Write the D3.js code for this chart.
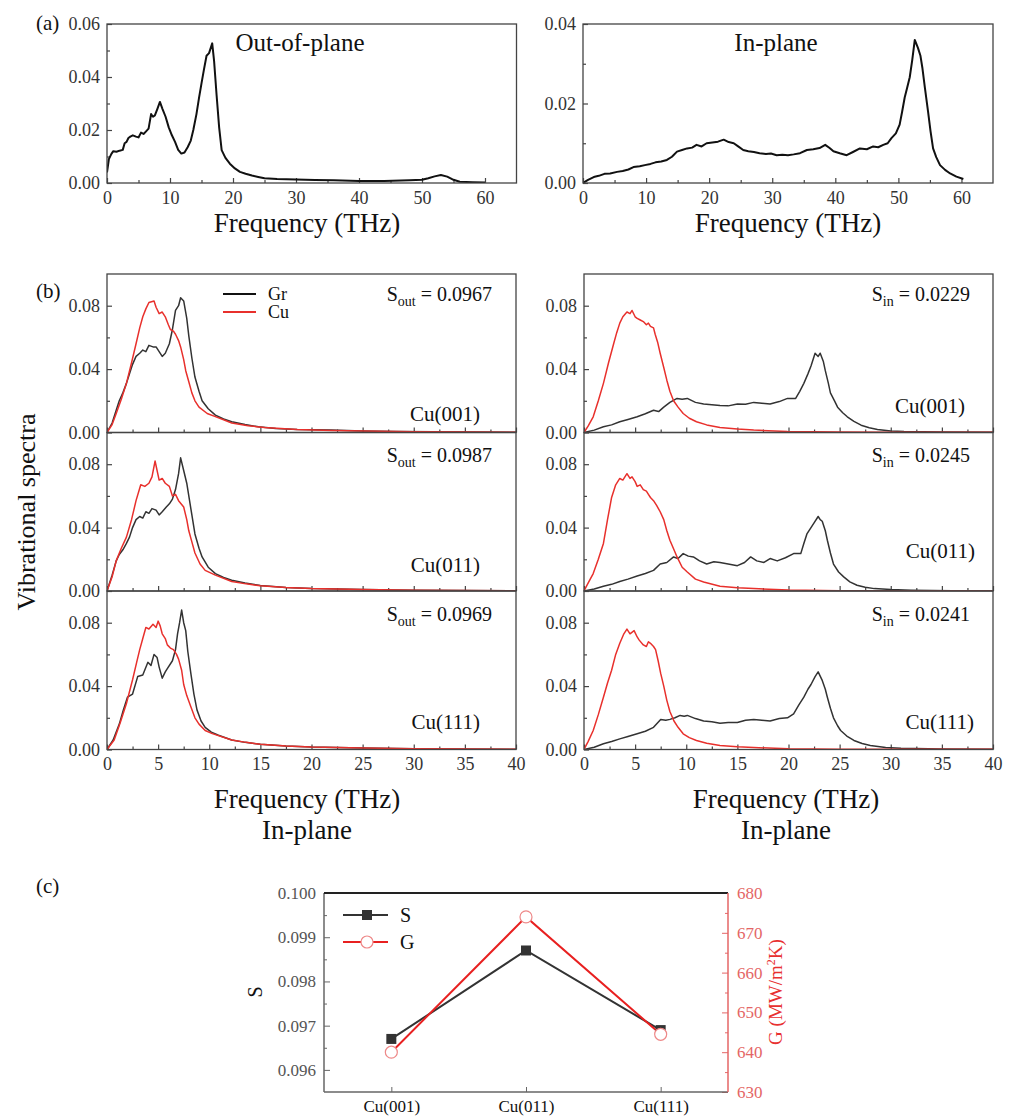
<!DOCTYPE html>
<html>
<head>
<meta charset="utf-8">
<title>Vibrational spectra of Gr on Cu</title>
<script src="https://d3js.org/d3.v7.min.js"></script>
<style>
  body { margin: 0; background: #fff; }
  svg text { font-family: "Liberation Serif", Tinos, "Times New Roman", Times, "DejaVu Serif", serif !important; }
</style>
</head>
<body>
<div id="chart"></div>
<script>
// ---- panel (a): free-standing graphene, [frequency THz, spectrum]
const aOut = [[0,0.004],[0.3,0.009],[0.7,0.011],[1,0.012],[1.5,0.0118],[2,0.0122],[2.5,0.0125],[2.8,0.015],[3.1,0.0155],[3.4,0.017],[3.7,0.0175],[4.1,0.018],[4.6,0.0175],[5,0.0172],[5.4,0.019],[5.8,0.0185],[6.2,0.0195],[6.6,0.0205],[7,0.026],[7.3,0.025],[7.6,0.0255],[8,0.028],[8.4,0.0306],[8.8,0.028],[9.3,0.025],[9.8,0.021],[10.3,0.018],[10.8,0.0155],[11.3,0.0125],[11.8,0.0111],[12.3,0.0115],[12.8,0.0135],[13.3,0.016],[13.7,0.02],[14.2,0.026],[14.6,0.032],[15,0.0376],[15.4,0.043],[15.8,0.048],[16.2,0.049],[16.7,0.0527],[17,0.046],[17.4,0.033],[17.8,0.021],[18.2,0.0124],[18.8,0.0095],[19.5,0.0073],[20.3,0.0055],[21.1,0.0042],[22,0.0035],[23,0.0028],[24,0.0023],[25,0.0018],[27,0.0015],[30,0.0013],[33,0.0011],[36,0.001],[40,0.0008],[44,0.0008],[48,0.001],[50,0.0012],[51,0.0018],[52,0.0025],[53,0.003],[54,0.0024],[55,0.0012],[56,0.0005],[58,0.0003],[60,0.0002]];
const aIn = [[0,0],[0.8,0.0008],[1.7,0.0015],[2.5,0.0018],[3.4,0.0023],[4.3,0.0024],[5.4,0.0028],[6.3,0.003],[7.2,0.0034],[8,0.004],[9,0.0042],[9.8,0.0045],[10.7,0.0048],[11.5,0.0052],[12.4,0.0054],[13.3,0.0058],[14.1,0.0066],[14.9,0.0079],[15.7,0.0083],[16.5,0.0087],[17.3,0.0089],[18,0.0096],[18.8,0.0092],[19.6,0.01],[20.5,0.0102],[21.4,0.0104],[22.3,0.0109],[23.1,0.0103],[23.9,0.01],[24.6,0.0092],[25.4,0.0083],[26.2,0.008],[27.1,0.0078],[28,0.0075],[29,0.0073],[29.8,0.0074],[30.7,0.007],[31.6,0.0071],[32.5,0.007],[33.4,0.0072],[34.4,0.0075],[35.5,0.0083],[36.5,0.0085],[37.5,0.0088],[38.4,0.0096],[39.1,0.0088],[39.7,0.008],[40.7,0.0075],[41.8,0.007],[42.8,0.0078],[43.9,0.0087],[45,0.0085],[46,0.0092],[46.8,0.009],[47.6,0.0096],[48.3,0.01],[48.9,0.0113],[49.6,0.0125],[50.2,0.0147],[50.6,0.018],[51,0.0215],[51.4,0.024],[51.8,0.0266],[52.2,0.031],[52.6,0.036],[53.1,0.034],[53.5,0.032],[53.8,0.029],[54.2,0.024],[54.7,0.018],[55.1,0.013],[55.5,0.0087],[56,0.0065],[56.6,0.0045],[57.4,0.0033],[58.2,0.0024],[59.2,0.0016],[60.3,0.001]];

// ---- panel (b): out-of-plane (left) and in-plane (right) for Gr and Cu
const bOut001Gr = [[0,0],[0.5,0.006],[0.9,0.014],[1.2,0.02],[1.55,0.025],[1.9,0.031],[2.2,0.037],[2.5,0.043],[2.84,0.048],[3.2,0.05],[3.5,0.052],[3.8,0.051],[4.1,0.055],[4.5,0.054],[4.8,0.054],[5.1,0.051],[5.4,0.048],[5.7,0.05],[6.1,0.056],[6.4,0.065],[6.7,0.077],[7,0.08],[7.2,0.085],[7.5,0.083],[7.8,0.072],[8,0.061],[8.3,0.047],[8.6,0.035],[9,0.026],[9.3,0.02],[9.9,0.015],[10.6,0.011],[11.4,0.0085],[12.2,0.0068],[13.5,0.005],[14.8,0.0036],[16.5,0.0026],[18.6,0.0019],[21.9,0.0015],[25,0.001],[28.3,0.0006],[32,0.0004],[36,0.0003],[40,0.0002]];
const bOut001Cu = [[0,0],[0.5,0.005],[0.9,0.012],[1.4,0.021],[1.9,0.031],[2.4,0.044],[2.84,0.056],[3.2,0.066],[3.5,0.073],[3.8,0.078],[4.1,0.082],[4.6,0.083],[4.8,0.079],[5.1,0.075],[5.4,0.076],[5.7,0.073],[6,0.068],[6.2,0.065],[6.5,0.064],[6.7,0.062],[7,0.058],[7.2,0.054],[7.5,0.046],[7.7,0.039],[8,0.032],[8.3,0.025],[8.6,0.02],[9,0.016],[9.8,0.012],[10.6,0.01],[11.4,0.008],[12.2,0.006],[13.8,0.0042],[15.4,0.0032],[18.6,0.0019],[22,0.0013],[25,0.001],[30,0.0005],[35,0.0003],[40,0.0002]];
const bOut011Gr = [[0,0],[0.5,0.01],[0.9,0.019],[1.2,0.023],[1.55,0.026],[1.9,0.03],[2.2,0.034],[2.5,0.04],[2.84,0.045],[3.2,0.047],[3.5,0.046],[3.8,0.05],[4.1,0.049],[4.4,0.052],[4.8,0.051],[5.1,0.048],[5.4,0.05],[5.8,0.053],[6.1,0.055],[6.4,0.058],[6.7,0.064],[7,0.074],[7.2,0.084],[7.5,0.076],[7.8,0.068],[8,0.06],[8.3,0.048],[8.6,0.036],[9,0.027],[9.3,0.0215],[9.9,0.015],[10.6,0.011],[11.4,0.0085],[12.2,0.0068],[13.5,0.005],[15,0.0035],[17.5,0.0022],[20,0.0015],[25,0.0009],[30,0.0005],[35,0.0003],[40,0.0002]];
const bOut011Cu = [[0,0],[0.5,0.009],[0.9,0.019],[1.4,0.027],[1.9,0.034],[2.4,0.045],[2.84,0.057],[3.3,0.067],[3.7,0.066],[4.1,0.068],[4.4,0.072],[4.7,0.082],[5.1,0.07],[5.4,0.071],[5.7,0.068],[6.1,0.066],[6.4,0.06],[6.7,0.061],[7,0.057],[7.5,0.053],[7.8,0.045],[8,0.038],[8.3,0.031],[8.6,0.024],[9.1,0.017],[9.6,0.013],[10.6,0.01],[12.2,0.006],[13.6,0.0045],[15,0.0033],[17.5,0.0022],[20,0.0015],[25,0.0009],[30,0.0005],[40,0.0002]];
const bOut111Gr = [[0,0],[0.6,0.006],[1.2,0.016],[1.6,0.025],[2,0.033],[2.5,0.035],[3,0.046],[3.5,0.047],[4,0.055],[4.3,0.053],[4.6,0.06],[4.9,0.058],[5.1,0.052],[5.4,0.045],[5.7,0.049],[5.9,0.051],[6.4,0.056],[6.7,0.063],[6.9,0.073],[7.1,0.08],[7.3,0.088],[7.5,0.08],[7.7,0.075],[7.9,0.062],[8.2,0.048],[8.5,0.035],[8.8,0.025],[9.2,0.018],[9.6,0.014],[10.2,0.011],[10.9,0.009],[12.2,0.006],[13.5,0.0045],[15,0.0033],[17.5,0.0022],[20,0.0015],[25,0.0009],[30,0.0005],[40,0.0002]];
const bOut111Cu = [[0,0],[0.7,0.006],[1.3,0.017],[1.9,0.029],[2.5,0.044],[2.9,0.055],[3.2,0.063],[3.5,0.07],[3.8,0.077],[4.1,0.076],[4.5,0.079],[4.8,0.077],[5,0.081],[5.2,0.078],[5.4,0.073],[5.7,0.07],[5.9,0.066],[6.2,0.064],[6.5,0.063],[6.8,0.06],[7,0.057],[7.3,0.05],[7.5,0.041],[7.8,0.034],[8.2,0.027],[8.6,0.02],[9,0.016],[9.6,0.012],[10.3,0.01],[12.2,0.006],[13.6,0.0045],[15,0.0033],[17.5,0.0022],[20,0.0015],[25,0.0009],[30,0.0005],[40,0.0002]];
const bIn001Gr = [[0,0],[1,0.0015],[1.9,0.0036],[2.7,0.0048],[3.5,0.0068],[4.3,0.0082],[5.2,0.0099],[6,0.0118],[6.8,0.014],[7.3,0.0132],[7.8,0.016],[8.4,0.019],[9.1,0.0215],[9.6,0.021],[10.1,0.0215],[10.9,0.019],[11.7,0.018],[12.5,0.0175],[13.3,0.017],[14.1,0.0168],[15,0.018],[15.8,0.0178],[16.6,0.019],[17.4,0.0185],[18.2,0.018],[19.1,0.0195],[19.9,0.0215],[20.7,0.0215],[21.1,0.026],[21.5,0.031],[21.9,0.037],[22.2,0.042],[22.6,0.05],[22.9,0.048],[23.1,0.05],[23.4,0.045],[23.6,0.039],[23.9,0.031],[24.1,0.025],[24.5,0.02],[24.8,0.016],[25.3,0.0125],[25.75,0.0099],[26.4,0.007],[27.1,0.0046],[27.9,0.003],[28.7,0.0019],[30,0.001],[31.3,0.0006],[35,0.0003],[40,0.0001]];
const bIn001Cu = [[0,0],[0.4,0.004],[0.9,0.0099],[1.4,0.02],[1.9,0.031],[2.4,0.044],[2.9,0.056],[3.2,0.063],[3.5,0.069],[3.8,0.073],[4.2,0.076],[4.5,0.075],[4.7,0.077],[5,0.073],[5.2,0.072],[5.5,0.071],[5.8,0.07],[6.1,0.068],[6.3,0.069],[6.5,0.067],[6.8,0.066],[6.96,0.062],[7.2,0.057],[7.45,0.05],[7.8,0.041],[8.1,0.033],[8.4,0.026],[8.76,0.02],[9.2,0.016],[9.7,0.012],[10.3,0.009],[11,0.0068],[12,0.0048],[13.3,0.0032],[15,0.0022],[16.6,0.0015],[19.9,0.0007],[25,0.0003],[30,0.0001],[40,0.0001]];
const bIn011Gr = [[0,0],[1,0.0013],[1.9,0.003],[2.7,0.0042],[3.5,0.006],[4.3,0.0075],[5.2,0.0095],[6,0.011],[6.8,0.013],[7.45,0.017],[8.1,0.018],[8.76,0.0215],[9.2,0.0205],[9.7,0.0236],[10.2,0.022],[10.7,0.0215],[11.3,0.019],[12,0.017],[12.7,0.0185],[13.3,0.018],[14.1,0.017],[15,0.016],[15.7,0.018],[16.3,0.0215],[16.9,0.019],[17.6,0.018],[18.2,0.0205],[18.9,0.019],[19.7,0.021],[20.5,0.0236],[21.2,0.0236],[21.5,0.03],[21.8,0.036],[22.2,0.04],[22.5,0.043],[22.9,0.047],[23.1,0.045],[23.3,0.044],[23.6,0.038],[23.8,0.032],[24.1,0.024],[24.4,0.017],[24.9,0.012],[25.4,0.0089],[26,0.0058],[26.7,0.0036],[27.5,0.0024],[28.4,0.0015],[30,0.0009],[32,0.0005],[36,0.0002],[40,0.0001]];
const bIn011Cu = [[0,0],[0.4,0.005],[0.9,0.011],[1.4,0.02],[1.9,0.03],[2.3,0.045],[2.7,0.059],[3.1,0.067],[3.5,0.071],[3.8,0.07],[4.2,0.074],[4.5,0.071],[4.7,0.072],[5,0.069],[5.2,0.066],[5.5,0.067],[5.8,0.064],[6.1,0.063],[6.3,0.061],[6.5,0.059],[6.8,0.057],[7.1,0.054],[7.45,0.05],[7.8,0.045],[8.1,0.038],[8.4,0.032],[8.8,0.026],[9.1,0.0215],[9.6,0.015],[10.1,0.012],[10.9,0.0075],[11.7,0.0057],[13.3,0.003],[15,0.002],[16.6,0.0015],[20,0.0006],[25,0.0002],[40,0.0001]];
const bIn111Gr = [[0,0],[1,0.0014],[1.9,0.0036],[2.7,0.005],[3.5,0.0067],[4.3,0.0082],[5.2,0.0099],[6,0.0115],[6.8,0.014],[7.5,0.019],[8,0.0185],[8.4,0.019],[8.9,0.02],[9.4,0.0215],[9.8,0.021],[10.1,0.0215],[10.9,0.0195],[11.7,0.018],[12.5,0.0175],[13.3,0.0166],[14.1,0.017],[15,0.017],[15.8,0.0185],[16.6,0.019],[17.4,0.0185],[18.2,0.018],[19.1,0.0195],[19.9,0.02],[20.5,0.0225],[21,0.028],[21.5,0.033],[21.9,0.038],[22.2,0.041],[22.6,0.046],[22.9,0.049],[23.3,0.0436],[23.6,0.038],[23.8,0.033],[24.1,0.026],[24.4,0.02],[24.8,0.015],[25.1,0.012],[25.7,0.0085],[26.4,0.0057],[27.2,0.0038],[28,0.0025],[29.5,0.0013],[31,0.0008],[35,0.0003],[40,0.0001]];
const bIn111Cu = [[0,0],[0.4,0.005],[0.9,0.012],[1.4,0.022],[1.9,0.033],[2.3,0.042],[2.7,0.05],[3.1,0.06],[3.5,0.067],[3.9,0.073],[4.2,0.076],[4.5,0.073],[4.9,0.075],[5.2,0.071],[5.4,0.069],[5.8,0.066],[6.1,0.065],[6.3,0.068],[6.5,0.067],[6.8,0.065],[7,0.063],[7.25,0.056],[7.5,0.048],[7.8,0.04],[8.1,0.031],[8.4,0.024],[8.8,0.018],[9.2,0.014],[9.7,0.0099],[10.3,0.0075],[11,0.0057],[12,0.004],[13.3,0.0025],[15,0.0017],[16.6,0.0012],[20,0.0005],[25,0.0002],[40,0.0001]];

const surfaceNames = ["Cu(001)", "Cu(011)", "Cu(111)"];
const sOutValues = ["0.0967", "0.0987", "0.0969"];
const sInValues = ["0.0229", "0.0245", "0.0241"];

// ---- panel (c)
const sValues = [0.0967, 0.0987, 0.0969];
const gValues = [640, 674, 644.5];

// tick values
const aFreqTicks = [0, 10, 20, 30, 40, 50, 60];
const aFreqMinor = [5, 15, 25, 35, 45, 55];
const aOutTicks = [0, 0.02, 0.04, 0.06];
const aOutMinor = [0.01, 0.03, 0.05];
const aInTicks = [0, 0.02, 0.04];
const aInMinor = [0.01, 0.03];
const bFreqTicks = [0, 5, 10, 15, 20, 25, 30, 35, 40];
const bFreqMinor = [2.5, 7.5, 12.5, 17.5, 22.5, 27.5, 32.5, 37.5];
const bSpecTicks = [0, 0.04, 0.08];
const bSpecMinor = [0.02, 0.06];
const sTicks = [0.096, 0.097, 0.098, 0.099, 0.100];
const sMinor = [0.0965, 0.0975, 0.0985, 0.0995];
const gTicks = [630, 640, 650, 660, 670, 680];
const gMinor = [635, 645, 655, 665, 675];

const GR = "#333", CU = "#e8302c", AX = "#444";
const SERIF = '"Liberation Serif", Tinos, "Times New Roman", Times, "DejaVu Serif", serif';

const svg = d3.select("#chart").append("svg")
    .attr("width", 1013).attr("height", 1117)
    .style("font-family", SERIF);

const line = (x, y) => d3.line().x(d => x(d[0])).y(d => y(d[1]));
let clipId = 0;

// one framed plot with inward ticks
function framed(left, right, top, bottom, xDom, yDom, o) {
    const x = d3.scaleLinear().domain(xDom).range([left, right]);
    const y = d3.scaleLinear().domain(yDom).range([bottom, top]);
    const g = svg.append("g");
    const id = "clip" + (clipId++);
    g.append("clipPath").attr("id", id).append("rect")
        .attr("x", left).attr("y", top).attr("width", right - left).attr("height", bottom - top);

    const ax = g.append("g").attr("class", "axes");
    ax.append("g").attr("transform", `translate(0,${bottom})`)
        .call(d3.axisBottom(x).tickValues(o.xTicks).tickSize(-5).tickPadding(8)
            .tickFormat(o.xLabels ? d3.format("d") : ""));
    ax.append("g").attr("transform", `translate(0,${bottom})`)
        .call(d3.axisBottom(x).tickValues(o.xMinor).tickSize(-3).tickFormat(""));
    ax.append("g").attr("transform", `translate(${left},0)`)
        .call(d3.axisLeft(y).tickValues(o.yTicks).tickSize(-5).tickPadding(7).tickFormat(d3.format(".2f")));
    ax.append("g").attr("transform", `translate(${left},0)`)
        .call(d3.axisLeft(y).tickValues(o.yMinor).tickSize(-3).tickFormat(""));
    ax.selectAll(".domain").remove();
    ax.selectAll("g").attr("font-family", null);
    ax.selectAll("line").attr("stroke", AX).attr("stroke-width", 1.2);
    ax.selectAll("text").attr("font-size", 18).attr("fill", "#333");

    const plot = g.append("g").attr("clip-path", `url(#${id})`);
    o.series.forEach(s => {
        plot.append("path").datum(s.data)
            .attr("fill", "none").attr("stroke", s.color)
            .attr("stroke-width", s.width).attr("stroke-linejoin", "round")
            .attr("d", line(x, y));
    });
    g.append("rect").attr("x", left).attr("y", top)
        .attr("width", right - left).attr("height", bottom - top)
        .attr("fill", "none").attr("stroke", AX).attr("stroke-width", 1.3);
    return { g, x, y };
}

function label(txt, x, y, size, anchor) {
    return svg.append("text").attr("x", x).attr("y", y)
        .attr("font-size", size).attr("text-anchor", anchor || "middle").attr("fill", "#111").text(txt);
}
function vlabel(txt, x, y, size, angle) {
    return svg.append("text").attr("transform", `translate(${x},${y}) rotate(${angle})`)
        .attr("font-size", size).attr("text-anchor", "middle").attr("fill", "#111").text(txt);
}

// ---------- (a)
framed(107, 516.5, 24, 183, [0, 65], [0, 0.06],
    { xTicks: aFreqTicks, xMinor: aFreqMinor, yTicks: aOutTicks, yMinor: aOutMinor, xLabels: true,
      series: [{ data: aOut, color: "#111", width: 2 }] });
framed(583, 993, 24, 183, [0, 65], [0, 0.04],
    { xTicks: aFreqTicks, xMinor: aFreqMinor, yTicks: aInTicks, yMinor: aInMinor, xLabels: true,
      series: [{ data: aIn, color: "#111", width: 2 }] });
label("(a)", 36, 30, 21, "start");
label("Out-of-plane", 300, 51, 25);
label("In-plane", 776, 51, 25);
label("Frequency (THz)", 307, 232, 27);
label("Frequency (THz)", 788, 232, 27);

// ---------- (b)
const bTops = [274, 432.5, 591];
const bH = 158.5;
const outSets = [[bOut001Gr, bOut001Cu], [bOut011Gr, bOut011Cu], [bOut111Gr, bOut111Cu]];
const inSets = [[bIn001Gr, bIn001Cu], [bIn011Gr, bIn011Cu], [bIn111Gr, bIn111Cu]];
const leftCuY = [421, 572, 729], rightCuY = [413, 558, 729];
const rightCuX = [965, 975, 974];
const sY = [301, 462, 621];

function sLabel(x, y, sub, val) {
    const t = svg.append("text").attr("x", x).attr("y", y).attr("font-size", 20)
        .attr("text-anchor", "end").attr("fill", "#111");
    t.append("tspan").text("S");
    t.append("tspan").attr("font-size", 14).attr("dy", 5).text(sub);
    t.append("tspan").attr("dy", -5).text(" = " + val);
}

bTops.forEach((top, i) => {
    const last = i === bTops.length - 1;
    framed(107, 516, top, top + bH, [0, 40], [0, 0.1],
        { xTicks: bFreqTicks, xMinor: bFreqMinor, yTicks: bSpecTicks, yMinor: bSpecMinor, xLabels: last,
          series: [{ data: outSets[i][0], color: GR, width: 1.5 }, { data: outSets[i][1], color: CU, width: 1.5 }] });
    framed(584, 993, top, top + bH, [0, 40], [0, 0.1],
        { xTicks: bFreqTicks, xMinor: bFreqMinor, yTicks: bSpecTicks, yMinor: bSpecMinor, xLabels: last,
          series: [{ data: inSets[i][0], color: GR, width: 1.5 }, { data: inSets[i][1], color: CU, width: 1.5 }] });
    sLabel(492, sY[i], "out", sOutValues[i]);
    sLabel(970, sY[i], "in", sInValues[i]);
    label(surfaceNames[i], 480, leftCuY[i], 21, "end");
    label(surfaceNames[i], rightCuX[i], rightCuY[i], 21, "end");
});

// legend
const legend = [{ name: "Gr", color: "#111" }, { name: "Cu", color: CU }];
legend.forEach((d, i) => {
    const yy = 294 + i * 18;
    svg.append("line").attr("x1", 223).attr("x2", 256).attr("y1", yy).attr("y2", yy)
        .attr("stroke", d.color).attr("stroke-width", 2);
    label(d.name, 268, yy + 6, 18, "start");
});
label("(b)", 36, 298, 21, "start");
vlabel("Vibrational spectra", 35, 512, 26, -90);
label("Frequency (THz)", 307, 808, 27);
label("In-plane", 307, 839, 27);
label("Frequency (THz)", 786, 808, 27);
label("In-plane", 786, 839, 27);

// ---------- (c)
const cL = 324, cR = 728, cT = 893, cB = 1092;
const xc = d3.scalePoint().domain(surfaceNames).range([cL, cR]).padding(0.5);
const ys = d3.scaleLinear().domain([0.0955, 0.1]).range([cB, cT]);
const yg = d3.scaleLinear().domain([630, 680]).range([cB, cT]);
const gc = svg.append("g");
const cGray = "#666", cRed = "#e46666";

gc.append("g").attr("transform", `translate(0,${cB})`)
    .call(d3.axisBottom(xc).tickSize(-5).tickPadding(8))
    .call(a => a.selectAll("text").attr("font-size", 17).attr("fill", "#111"));
gc.append("g").attr("transform", `translate(${cL},0)`)
    .call(d3.axisLeft(ys).tickValues(sTicks).tickSize(-6).tickPadding(8).tickFormat(d3.format(".3f")))
    .call(a => a.selectAll("text").attr("font-size", 17).attr("fill", "#555"));
gc.append("g").attr("transform", `translate(${cL},0)`)
    .call(d3.axisLeft(ys).tickValues(sMinor).tickSize(-3).tickFormat(""));
gc.append("g").attr("transform", `translate(${cR},0)`)
    .call(d3.axisRight(yg).tickValues(gTicks).tickSize(-6).tickPadding(9))
    .call(a => a.selectAll("text").attr("font-size", 17).attr("fill", cRed))
    .call(a => a.selectAll("line").attr("stroke", cRed));
gc.append("g").attr("transform", `translate(${cR},0)`)
    .call(d3.axisRight(yg).tickValues(gMinor).tickSize(-3).tickFormat(""))
    .call(a => a.selectAll("line").attr("stroke", cRed));
gc.selectAll(".domain").remove();
gc.selectAll("g").attr("font-family", null);
gc.selectAll("g line").filter(function () { return d3.select(this).attr("stroke") === "currentColor"; })
    .attr("stroke", cGray);

// frame
gc.append("line").attr("x1", cL).attr("x2", cL).attr("y1", cT).attr("y2", cB).attr("stroke", cGray).attr("stroke-width", 1.5);
gc.append("line").attr("x1", cL).attr("x2", cR).attr("y1", cB).attr("y2", cB).attr("stroke", cGray).attr("stroke-width", 1.5);
gc.append("line").attr("x1", cL).attr("x2", cR).attr("y1", cT).attr("y2", cT).attr("stroke", "#222").attr("stroke-width", 2);
gc.append("line").attr("x1", cR).attr("x2", cR).attr("y1", cT).attr("y2", cB).attr("stroke", cRed).attr("stroke-width", 1.5);

const sPts = surfaceNames.map((n, i) => [xc(n), ys(sValues[i])]);
const gPts = surfaceNames.map((n, i) => [xc(n), yg(gValues[i])]);
gc.append("path").datum(sPts).attr("fill", "none").attr("stroke", "#333").attr("stroke-width", 2).attr("d", d3.line());
gc.append("path").datum(gPts).attr("fill", "none").attr("stroke", "#e82020").attr("stroke-width", 2).attr("d", d3.line());
gc.selectAll(".sq").data(sPts).join("rect").attr("class", "sq")
    .attr("x", d => d[0] - 5).attr("y", d => d[1] - 5).attr("width", 10).attr("height", 10).attr("fill", "#333");
gc.selectAll(".ci").data(gPts).join("circle").attr("class", "ci")
    .attr("cx", d => d[0]).attr("cy", d => d[1]).attr("r", 6)
    .attr("fill", "#fff").attr("stroke", "#e88").attr("stroke-width", 1.2);

// legend (c)
gc.append("line").attr("x1", 343).attr("x2", 388).attr("y1", 915).attr("y2", 915).attr("stroke", "#333").attr("stroke-width", 2);
gc.append("rect").attr("x", 362).attr("y", 910).attr("width", 10).attr("height", 10).attr("fill", "#333");
gc.append("line").attr("x1", 343).attr("x2", 388).attr("y1", 942).attr("y2", 942).attr("stroke", "#e82020").attr("stroke-width", 2);
gc.append("circle").attr("cx", 367).attr("cy", 942).attr("r", 6).attr("fill", "#fff").attr("stroke", "#e88").attr("stroke-width", 1.2);
label("S", 400, 922, 20, "start");
label("G", 400, 949, 20, "start");

label("(c)", 36, 893, 21, "start");
vlabel("S", 262, 992, 20, -90);
const gLab = svg.append("text").attr("transform", "translate(782,992) rotate(-90)")
    .attr("text-anchor", "middle").attr("font-size", 19).attr("fill", "#e83030");
gLab.append("tspan").text("G (MW/m");
gLab.append("tspan").attr("font-size", 12).attr("dy", -7).text("2");
gLab.append("tspan").attr("dy", 7).text("K)");
</script>
</body>
</html>
